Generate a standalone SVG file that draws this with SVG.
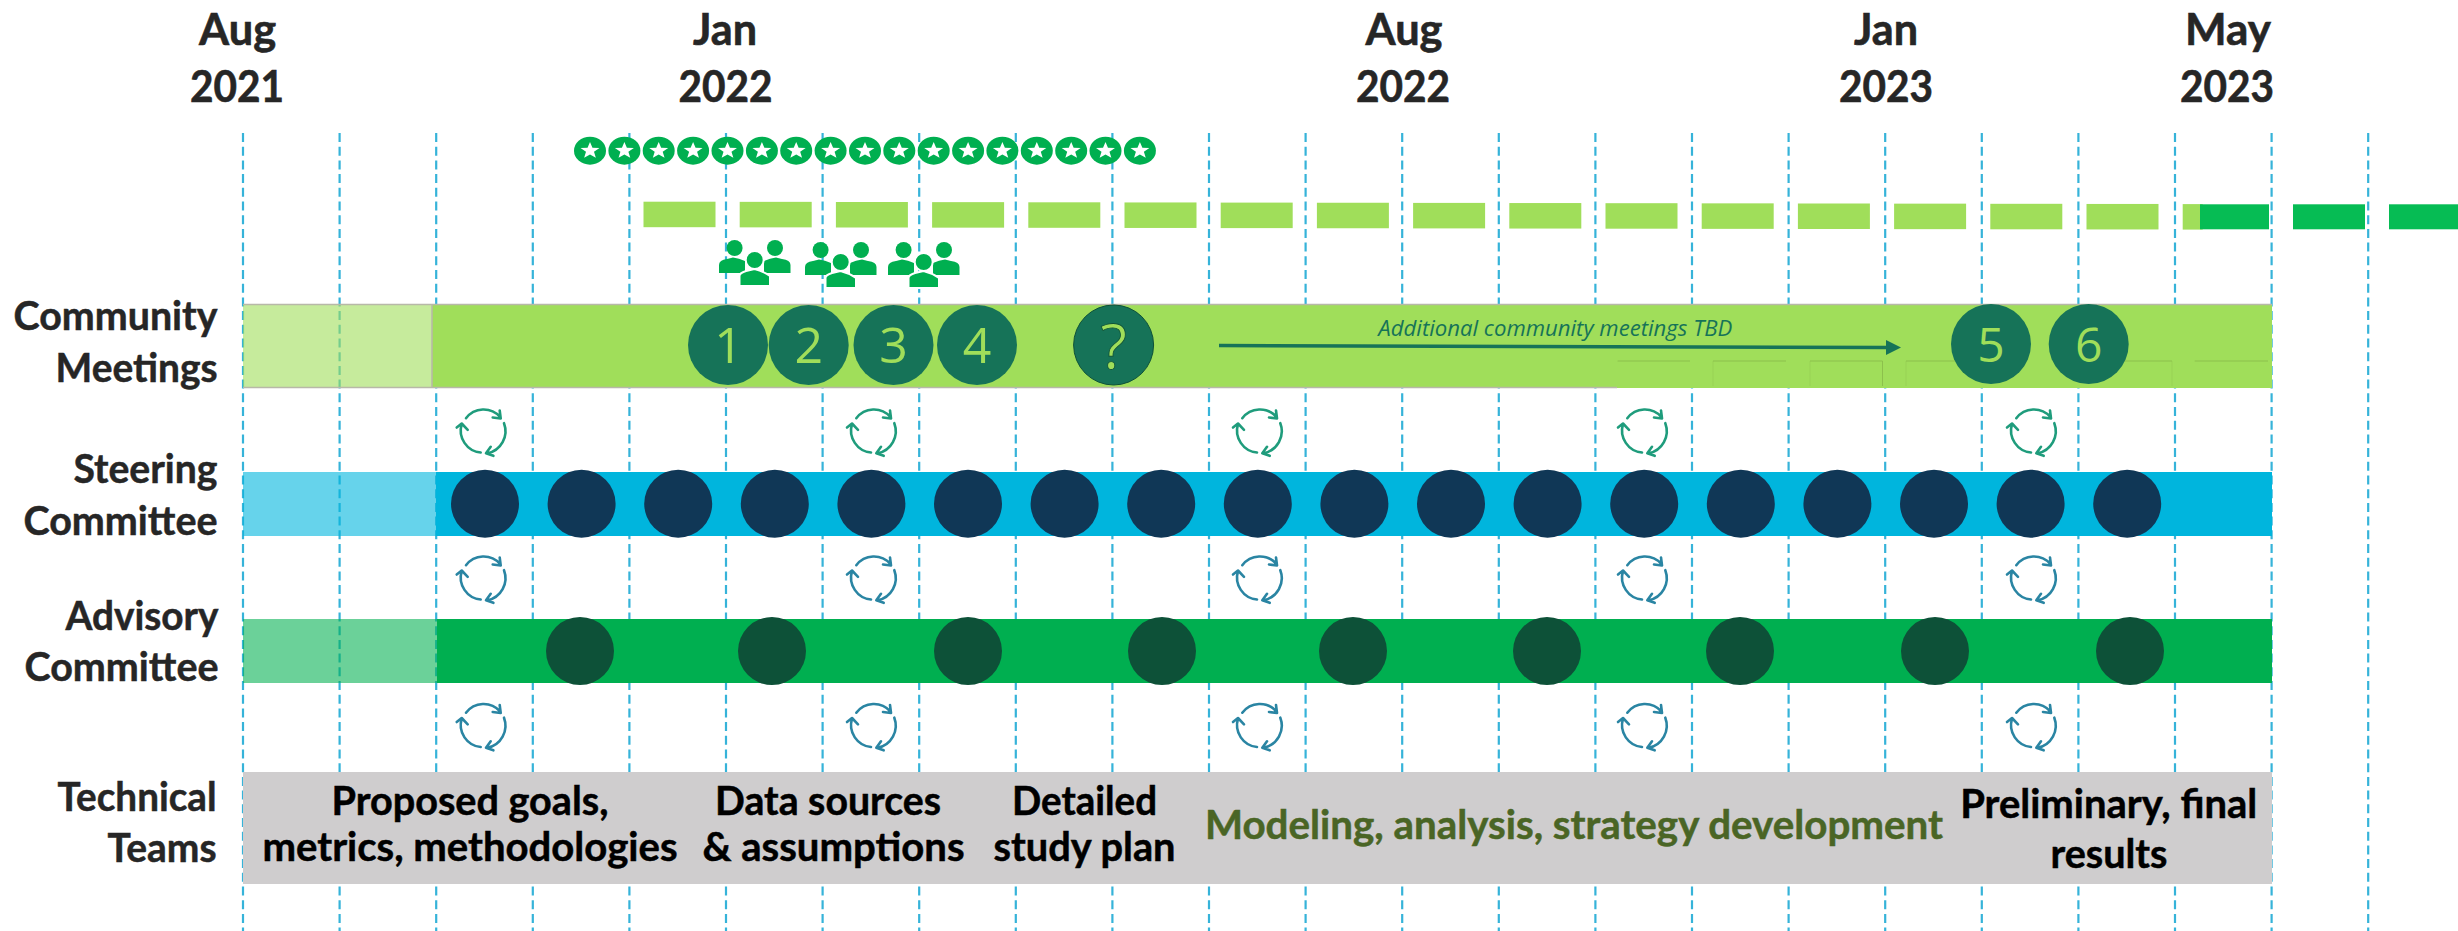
<svg xmlns="http://www.w3.org/2000/svg" xmlns:xlink="http://www.w3.org/1999/xlink" width="2458" height="931" viewBox="0 0 2458 931">
<style>
text{font-family:"Lato","Liberation Sans",sans-serif;font-weight:700;text-anchor:middle}
.hd{font-size:43px;fill:#262626;stroke:#262626;stroke-width:.6px}
.lb{font-size:41px;fill:#262626;text-anchor:end;stroke:#262626;stroke-width:.5px}
.tt{font-size:40px;fill:#000;stroke:#000;stroke-width:.5px}
.num{font-family:"Open Sans","Noto Sans",sans-serif;font-weight:400;font-size:50px;fill:#A0DE5A}
.st{fill:#103756}.ad{fill:#0D5138}.mt{fill:#167358}
.dl{fill:#A0DE5A}.dg{fill:#06BC54}
</style>
<defs>
<g id="star"><ellipse rx="16" ry="14" fill="#00AF50"/><polygon transform="scale(1.05 .92)" fill="#fff" points="0,-9.5 2.35,-3.24 9.03,-2.94 3.8,1.24 5.58,7.69 0,4 -5.58,7.69 -3.8,1.24 -9.03,-2.94 -2.35,-3.24"/></g>
<g id="people"><g fill="#00AF50"><ellipse cx="15.6" cy="8" rx="8" ry="8"/><ellipse cx="56" cy="8" rx="8" ry="8"/><path d="M0 33V25Q0 20 8 19L14 17.500Q20 18 26 21L26 33Z"/><path d="M71.500 33V25Q71.500 20 63 19L57 17.500Q51 18 45 21L45 33Z"/></g><ellipse cx="35.700" cy="20" rx="9" ry="9" fill="#00AF50" stroke="#fff" stroke-width="2"/><path d="M20.500 46V36Q20.500 33 27 31L35.500 29Q44 31 51 36V46Z" fill="#00AF50" stroke="#fff" stroke-width="2"/></g>
<g id="cycle" fill="none" stroke-width="2.600" stroke-linecap="round" stroke-linejoin="round"><path d="M-16.700-13.300A22 22 0 0 1 17.300-14.700M10-14 18-13 17-21"/><path d="M21.300-8.300A22.500 22.500 0 0 1 4.700 21.700M8 15.300 3.300 21.700 10.700 24.300"/><path d="M-2 21A22 22 0 0 1-21-7.300M-26-4-21-8-15-1.700"/></g>
<marker id="ah" markerUnits="userSpaceOnUse" markerWidth="16" markerHeight="16" viewBox="0 0 16 16" refX="1" refY="8" orient="auto"><path d="M0 .5 15 8 0 15.500Z" fill="#167358"/></marker>
</defs>
<rect width="2458" height="931" fill="#fff"/>
<g id="connectors">
<path id="gridlines" fill="none" stroke="#36B3D9" stroke-width="2.200" stroke-dasharray="9 4.700" d="M243 133V931M339.600 133V931M436.200 133V931M532.800 133V931M629.400 133V931M726 133V931M822.600 133V931M919.200 133V931M1015.800 133V931M1112.400 133V931M1209 133V931M1305.600 133V931M1402.200 133V931M1498.800 133V931M1595.400 133V931M1692 133V931M1788.600 133V931M1885.200 133V931M1981.800 133V931M2078.400 133V931M2175 133V931M2271.600 133V931M2368.200 133V931"/>
</g>
<g id="header">
<text class="hd" x="237.600" y="45" textLength="77" lengthAdjust="spacingAndGlyphs">Aug</text><text class="hd" x="237" y="102" textLength="94" lengthAdjust="spacingAndGlyphs">2021</text>
<text class="hd" x="725" y="45" textLength="64" lengthAdjust="spacingAndGlyphs">Jan</text><text class="hd" x="725.600" y="102" textLength="94" lengthAdjust="spacingAndGlyphs">2022</text>
<text class="hd" x="1404" y="45" textLength="77" lengthAdjust="spacingAndGlyphs">Aug</text><text class="hd" x="1403" y="102" textLength="94" lengthAdjust="spacingAndGlyphs">2022</text>
<text class="hd" x="1886" y="45" textLength="64" lengthAdjust="spacingAndGlyphs">Jan</text><text class="hd" x="1886" y="102" textLength="94" lengthAdjust="spacingAndGlyphs">2023</text>
<text class="hd" x="2228" y="45" textLength="86" lengthAdjust="spacingAndGlyphs">May</text><text class="hd" x="2227" y="102" textLength="94" lengthAdjust="spacingAndGlyphs">2023</text>
</g>
<g id="stars">
<use href="#star" x="590" y="150.700"/><use href="#star" x="624.400" y="150.700"/><use href="#star" x="658.700" y="150.700"/><use href="#star" x="693.100" y="150.700"/><use href="#star" x="727.500" y="150.700"/><use href="#star" x="761.900" y="150.700"/><use href="#star" x="796.200" y="150.700"/><use href="#star" x="830.600" y="150.700"/><use href="#star" x="865" y="150.700"/><use href="#star" x="899.300" y="150.700"/><use href="#star" x="933.700" y="150.700"/><use href="#star" x="968.100" y="150.700"/><use href="#star" x="1002.400" y="150.700"/><use href="#star" x="1036.800" y="150.700"/><use href="#star" x="1071.200" y="150.700"/><use href="#star" x="1105.500" y="150.700"/><use href="#star" x="1139.900" y="150.700"/>
</g>
<g id="dash-bar">
<rect class="dl" x="643.500" y="201.700" width="72" height="25.500"/><rect class="dl" x="739.700" y="201.850" width="72" height="25.500"/><rect class="dl" x="835.900" y="202" width="72" height="25.500"/><rect class="dl" x="932.100" y="202.150" width="72" height="25.500"/><rect class="dl" x="1028.300" y="202.300" width="72" height="25.500"/><rect class="dl" x="1124.500" y="202.450" width="72" height="25.500"/><rect class="dl" x="1220.700" y="202.600" width="72" height="25.500"/><rect class="dl" x="1316.900" y="202.750" width="72" height="25.500"/><rect class="dl" x="1413.100" y="202.900" width="72" height="25.500"/><rect class="dl" x="1509.300" y="203.050" width="72" height="25.500"/><rect class="dl" x="1605.500" y="203.200" width="72" height="25.500"/><rect class="dl" x="1701.700" y="203.350" width="72" height="25.500"/><rect class="dl" x="1797.900" y="203.500" width="72" height="25.500"/><rect class="dl" x="1894.100" y="203.650" width="72" height="25.500"/><rect class="dl" x="1990.300" y="203.800" width="72" height="25.500"/><rect class="dl" x="2086.500" y="203.950" width="72" height="25.500"/><rect class="dl" x="2182.700" y="204.100" width="20" height="25.500"/>
<rect class="dg" x="2200" y="204.300" width="69" height="25"/><rect class="dg" x="2293" y="204.300" width="72" height="25"/><rect class="dg" x="2389" y="204.300" width="69" height="25"/>
</g>
<g id="people-icons"><use href="#people" x="719" y="240"/><use href="#people" x="805" y="242"/><use href="#people" x="888" y="242"/></g>
<g id="community-meetings">
<text class="lb" x="217.500" y="330" textLength="204" lengthAdjust="spacingAndGlyphs">Community</text><text class="lb" x="217.500" y="381.500" textLength="162" lengthAdjust="spacingAndGlyphs">Meetings</text>
<rect x="243" y="304" width="189" height="84" fill="#A0DE5A" fill-opacity=".6"/>
<rect x="432" y="304" width="1840" height="84" fill="#A0DE5A"/>
<path d="M243 304.500H2272M243 387.500H1617M432 304V388" fill="none" stroke="#b8b8a8" stroke-width="1.500"/>
<path d="M1617.600 361H1690M1713 361H1786M1810 361H1882.500M1906 361H1979M2098 361H2172M2194.700 361H2268" fill="none" stroke="#8CC04C" stroke-width="1"/>
<path d="M1713 361V386M1810 361V386M1906 361V386M2172 361V386" fill="none" stroke="#8CC04C" stroke-width="1" stroke-opacity=".35"/>
<path d="M1882.500 361V386" fill="none" stroke="#8CC04C" stroke-width="1"/>
<g id="m1"><circle class="mt" cx="728" cy="345" r="40"/><text class="num" x="728.500" y="362.500">1</text></g>
<g id="m2"><circle class="mt" cx="808.700" cy="345" r="40"/><text class="num" x="808.700" y="362.500">2</text></g>
<g id="m3"><circle class="mt" cx="893.500" cy="345" r="40"/><text class="num" x="893.500" y="362.500">3</text></g>
<g id="m4"><circle class="mt" cx="977" cy="345" r="40"/><text class="num" x="977" y="362.500">4</text></g>
<g id="mq"><circle class="mt" cx="1113.600" cy="345" r="40" stroke="#0D5138" stroke-width="1"/><text class="num" x="1113.600" y="368.500" style="font-size:62px" stroke="#0D5138" stroke-width=".800">?</text></g>
<g id="m5"><circle class="mt" cx="1991" cy="344" r="40"/><text class="num" x="1991" y="361.700" style="font-size:48px;font-weight:500">5</text></g>
<g id="m6"><circle class="mt" cx="2088.700" cy="344" r="40"/><text class="num" x="2088.700" y="361.700" style="font-size:48px;font-weight:500">6</text></g>
<path d="M1219 345.500L1887 347.500" stroke="#167358" stroke-width="3.500" fill="none" marker-end="url(#ah)"/>
<text x="1555.300" y="336" textLength="354" lengthAdjust="spacingAndGlyphs" style="font-family:'Open Sans','Noto Sans',sans-serif;font-weight:400;font-style:italic;font-size:21px;fill:#167358">Additional community meetings TBD</text>
</g>
<g id="cycles-1" stroke="#1F9C7C"><use href="#cycle" x="482.700" y="431.500"/><use href="#cycle" x="873" y="431.500"/><use href="#cycle" x="1259" y="431.500"/><use href="#cycle" x="1644" y="431.500"/><use href="#cycle" x="2033" y="431.500"/></g>
<g id="steering-committee">
<text class="lb" x="217.500" y="483" textLength="144" lengthAdjust="spacingAndGlyphs">Steering</text><text class="lb" x="217.500" y="535" textLength="194" lengthAdjust="spacingAndGlyphs">Committee</text>
<rect x="243" y="472" width="193" height="64" fill="#00B5DD" fill-opacity=".6"/><rect x="436" y="472" width="1836" height="64" fill="#00B5DD"/>
<circle class="st" cx="485" cy="503.700" r="34"/><circle class="st" cx="581.600" cy="503.700" r="34"/><circle class="st" cx="678.200" cy="503.700" r="34"/><circle class="st" cx="774.800" cy="503.700" r="34"/><circle class="st" cx="871.400" cy="503.700" r="34"/><circle class="st" cx="968" cy="503.700" r="34"/><circle class="st" cx="1064.600" cy="503.700" r="34"/><circle class="st" cx="1161.200" cy="503.700" r="34"/><circle class="st" cx="1257.800" cy="503.700" r="34"/><circle class="st" cx="1354.400" cy="503.700" r="34"/><circle class="st" cx="1451" cy="503.700" r="34"/><circle class="st" cx="1547.600" cy="503.700" r="34"/><circle class="st" cx="1644.200" cy="503.700" r="34"/><circle class="st" cx="1740.800" cy="503.700" r="34"/><circle class="st" cx="1837.400" cy="503.700" r="34"/><circle class="st" cx="1934" cy="503.700" r="34"/><circle class="st" cx="2030.600" cy="503.700" r="34"/><circle class="st" cx="2127.200" cy="503.700" r="34"/>
</g>
<g id="cycles-2" stroke="#2A85A3"><use href="#cycle" x="482.700" y="578.500"/><use href="#cycle" x="873" y="578.500"/><use href="#cycle" x="1259" y="578.500"/><use href="#cycle" x="1644" y="578.500"/><use href="#cycle" x="2033" y="578.500"/></g>
<g id="advisory-committee">
<text class="lb" x="218.500" y="630" textLength="153" lengthAdjust="spacingAndGlyphs">Advisory</text><text class="lb" x="218.500" y="681" textLength="194" lengthAdjust="spacingAndGlyphs">Committee</text>
<rect x="243" y="619" width="194" height="64" fill="#00AF50" fill-opacity=".58"/><rect x="437" y="619" width="1835" height="64" fill="#00AF50"/>
<circle class="ad" cx="580" cy="651" r="34"/><circle class="ad" cx="772" cy="651" r="34"/><circle class="ad" cx="968" cy="651" r="34"/><circle class="ad" cx="1162" cy="651" r="34"/><circle class="ad" cx="1353" cy="651" r="34"/><circle class="ad" cx="1547" cy="651" r="34"/><circle class="ad" cx="1740" cy="651" r="34"/><circle class="ad" cx="1935" cy="651" r="34"/><circle class="ad" cx="2130" cy="651" r="34"/>
</g>
<g id="cycles-3" stroke="#2A85A3"><use href="#cycle" x="482.700" y="726"/><use href="#cycle" x="873" y="726"/><use href="#cycle" x="1259" y="726"/><use href="#cycle" x="1644" y="726"/><use href="#cycle" x="2033" y="726"/></g>
<g id="technical-teams">
<text class="lb" x="216.600" y="810.700" textLength="159" lengthAdjust="spacingAndGlyphs">Technical</text><text class="lb" x="216.600" y="861.700" textLength="109" lengthAdjust="spacingAndGlyphs">Teams</text>
<rect x="243" y="772" width="2029" height="112" fill="#CFCDCE"/>
<text class="tt" x="470" y="815" textLength="277" lengthAdjust="spacingAndGlyphs">Proposed goals,</text><text class="tt" x="470" y="861" textLength="415" lengthAdjust="spacingAndGlyphs">metrics, methodologies</text>
<text class="tt" x="828" y="815" textLength="226" lengthAdjust="spacingAndGlyphs">Data sources</text><text class="tt" x="833.500" y="861" textLength="262" lengthAdjust="spacingAndGlyphs">&amp; assumptions</text>
<text class="tt" x="1084.500" y="815" textLength="145" lengthAdjust="spacingAndGlyphs">Detailed</text><text class="tt" x="1084.500" y="861" textLength="182" lengthAdjust="spacingAndGlyphs">study plan</text>
<text class="tt" x="1574" y="839" textLength="738" lengthAdjust="spacingAndGlyphs" style="fill:#4A6525;stroke:#4A6525">Modeling, analysis, strategy development</text>
<text class="tt" x="2108.700" y="817.700" textLength="297" lengthAdjust="spacingAndGlyphs">Preliminary, final</text><text class="tt" x="2109" y="868" textLength="117" lengthAdjust="spacingAndGlyphs">results</text>
</g>
</svg>
